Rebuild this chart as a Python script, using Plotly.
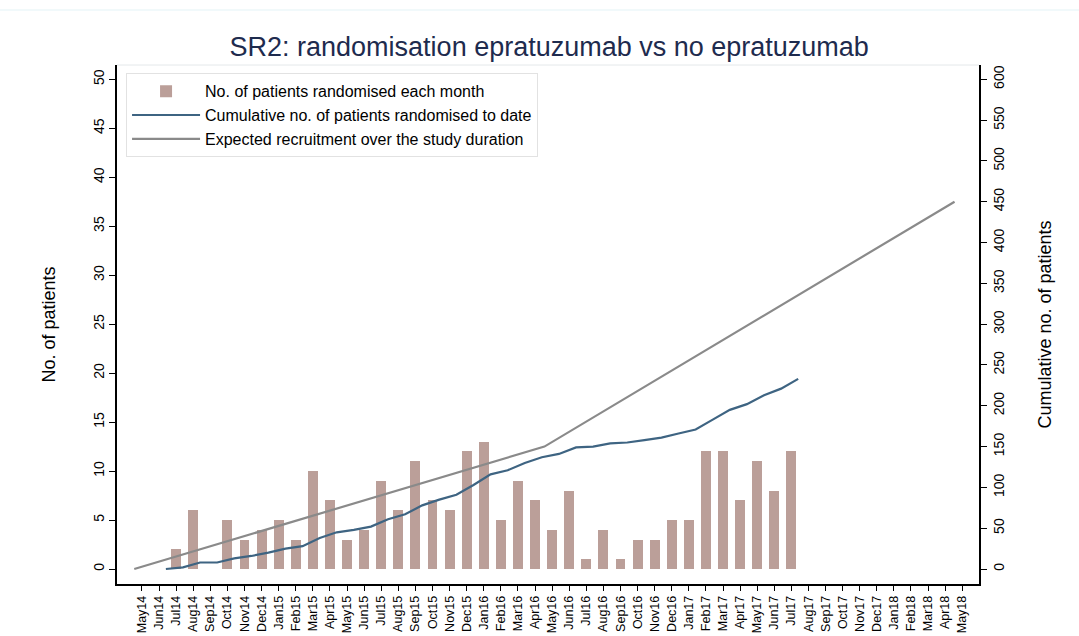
import numpy as np
import plotly.graph_objects as go

# ---- data ----
tick_labels = ["May14","Jun14","Jul14","Aug14","Sep14","Oct14","Nov14","Dec14",
               "Jan15","Feb15","Mar15","Apr15","May15","Jun15","Jul15","Aug15","Sep15","Oct15","Nov15","Dec15",
               "Jan16","Feb16","Mar16","Apr16","May16","Jun16","Jul16","Aug16","Sep16","Oct16","Nov16","Dec16",
               "Jan17","Feb17","Mar17","Apr17","May17","Jun17","Jul17","Aug17","Sep17","Oct17","Nov17","Dec17",
               "Jan18","Feb18","Mar18","Apr18","May18"]
bar_months = tick_labels[2:39]  # Jul14 .. Jul17
monthly_counts = [2, 6, 0, 5, 3, 4, 5, 3, 10, 7, 3, 4, 9, 6, 11, 7, 6, 12,
                  13, 5, 9, 7, 4, 8, 1, 4, 1, 3, 3, 5, 5, 12, 12, 7, 11, 8, 12]
expected_months = [-0.45, 23.55, 47.55]   # month positions (May14 = 0)
expected_values = [0, 150, 450]

ratio = 12  # right axis / left axis

month_pos = [tick_labels.index(m) for m in bar_months]
cum = np.cumsum(monthly_counts)
cum_x = [month_pos[0] - 0.6] + [p + 0.4 for p in month_pos]
cum_y = [0] + list(cum)

BAR = "#bb9f99"
CUM = "#3e6482"
EXP = "#8a8a8a"
FONT = "Liberation Sans, Arial, sans-serif"

fig = go.Figure()
fig.add_trace(go.Bar(x=month_pos, y=monthly_counts, width=0.58, marker_color=BAR,
                     marker_line_width=0, name="No. of patients randomised each month",
                     yaxis="y"))
fig.add_trace(go.Scatter(x=cum_x, y=cum_y, mode="lines", line=dict(color=CUM, width=2.2),
                         name="Cumulative no. of patients randomised to date", yaxis="y2"))
fig.add_trace(go.Scatter(x=expected_months, y=expected_values, mode="lines",
                         line=dict(color=EXP, width=2.2),
                         name="Expected recruitment over the study duration", yaxis="y2"))

ylo, yhi = -1.53, 51.46
fig.update_layout(
    width=1079, height=636,
    margin=dict(l=117, r=100, t=65, b=52),
    paper_bgcolor="white", plot_bgcolor="white",
    font=dict(family=FONT, color="black", size=14),
    title=dict(text="SR2: randomisation epratuzumab vs no epratuzumab",
               x=0.509, xanchor="center", y=1 - 47/636, yanchor="middle",
               font=dict(size=27, color="#1e2b4e", family=FONT)),
    showlegend=True,
    legend=dict(x=0.0105, y=0.984, xanchor="left", yanchor="top",
                bgcolor="white", bordercolor="#e2e2e2", borderwidth=1,
                font=dict(size=16, family=FONT, color="black"),
                itemwidth=68, tracegroupgap=0, traceorder="normal"),
    xaxis=dict(range=[-1.46, 48.98], tickmode="array",
               tickvals=list(range(len(tick_labels))), ticktext=tick_labels,
               tickangle=-90, ticks="outside", ticklen=5, tickcolor="black",
               showline=True, linecolor="black", linewidth=1.5, automargin=False,
               showgrid=False, zeroline=False, tickfont=dict(size=12.5)),
    yaxis=dict(range=[ylo, yhi], tickmode="array", tickvals=list(range(0, 51, 5)),
               tickangle=-90, ticks="outside", ticklen=6, tickcolor="black",
               showline=True, linecolor="black", linewidth=1.5, automargin=False,
               showgrid=False, zeroline=False, tickfont=dict(size=14),
               title=dict(text="No. of patients", font=dict(size=18), standoff=30)),
    yaxis2=dict(range=[ylo*ratio, yhi*ratio], overlaying="y", side="right",
                tickmode="array", tickvals=list(range(0, 601, 50)),
                tickangle=-90, ticks="outside", ticklen=6, tickcolor="black",
                showline=True, linecolor="black", linewidth=1.5, automargin=False,
                showgrid=False, zeroline=False, tickfont=dict(size=14),
                title=dict(text="Cumulative no. of patients", font=dict(size=18), standoff=33)),
    bargap=0,
)
# light top border of plot region and outer graph border line
fig.add_shape(type="line", xref="paper", yref="paper", x0=0, x1=1, y0=1, y1=1,
              line=dict(color="#e4e8ea", width=1))
fig.add_shape(type="line", xref="paper", yref="paper", x0=-0.2, x1=1.2, y0=1.106, y1=1.106,
              line=dict(color="#e3f3f6", width=1))

fig.write_html("out.html", config={"displayModeBar": False},
               post_script="document.body.style.margin='0';document.body.style.overflow='hidden';")
